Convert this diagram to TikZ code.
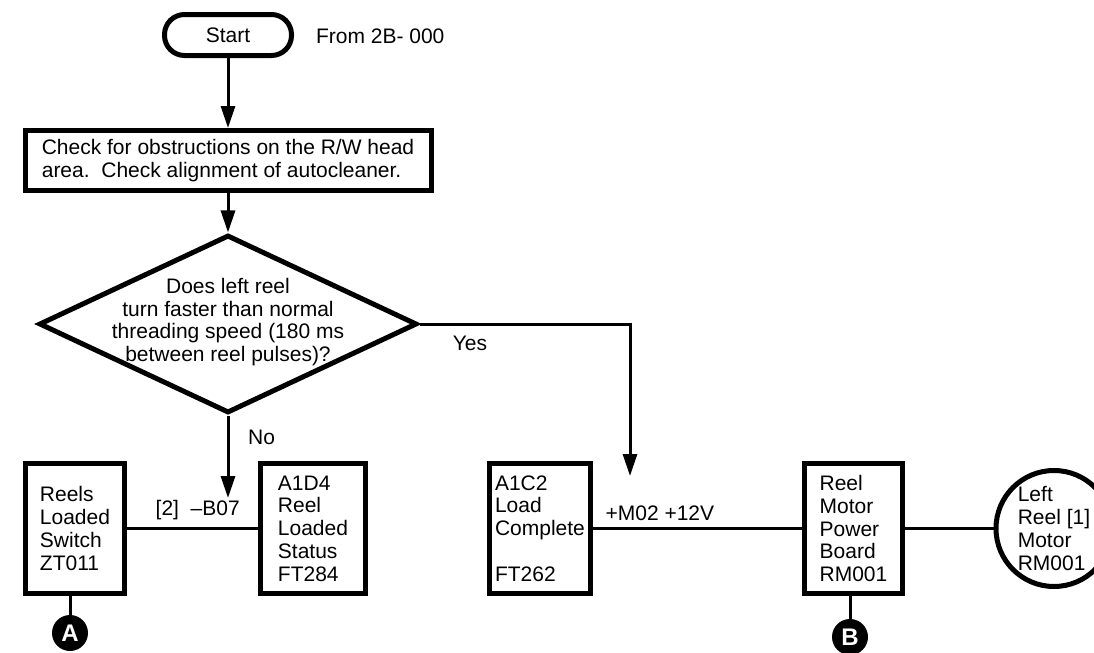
\documentclass[tikz,border=0pt]{standalone}
\usepackage{fontspec}
\setmainfont{Liberation Sans}
\usetikzlibrary{positioning, arrows.meta, shapes.geometric}

\begin{document}
\begin{tikzpicture}[
  x=0.5pt, y=-0.5pt,
  every node/.style={font=\fontsize{10.5}{11.4}\selectfont},
  term/.style={draw, line width=2.5pt, rounded corners=10pt, minimum width=63.5pt,
              minimum height=20.5pt},
  procbox/.style={draw, line width=2.5pt, minimum width=203pt, minimum height=30pt,
              align=left},
  decision/.style={diamond, draw, line width=2.5pt, minimum width=189pt,
              minimum height=89pt, inner sep=0pt},
  unit/.style={draw, line width=2.5pt, minimum width=#1, minimum height=65pt,
              inner xsep=2pt, align=left},
  motor/.style={circle, draw, line width=2.5pt, minimum size=58pt, inner sep=0pt, align=left},
  conn/.style={circle, fill=black, text=white, minimum size=18pt, inner sep=0pt,
              font=\fontsize{12}{12}\selectfont\bfseries},
  wire/.style={line width=1.5pt},
  arr/.style={-{Triangle[length=11pt, width=7pt]}, line width=1.5pt}
 ]
\useasboundingbox (0,0) rectangle (1094,653);
\node[term] (start) at (228,35) {Start};
\node[anchor=west] (from) at (309,36) {From 2B- 000};
\node[procbox] (check) at (228,160.5) {Check for obstructions on the R/W head\\area.\ \ Check alignment of autocleaner.};
\node[decision] (dec) at (228,324) {};
\node[align=center] (dectext) at ([yshift=1pt]dec.center) {Does left reel\\turn faster than normal\\threading speed (180 ms\\between reel pulses)?};
\node[unit=49.5pt] (reels)  at (75,528.5)    {Reels\\Loaded\\Switch\\ZT011};
\node[unit=52.5pt] (status) at (313,528.5)   {A1D4\\Reel\\Loaded\\Status\\FT284};
\node[unit=50.5pt] (load)   at (540,528.5)   {A1C2\\Load\\Complete\\[11.4pt]FT262};
\node[unit=49pt]   (power)  at (853.5,528.5) {Reel\\Motor\\Power\\Board\\RM001};
\node[motor] (motor) at (1054,528.5) {Left\\Reel [1]\\Motor\\RM001};
\node[conn] (cona) at (70,633) {A};
\node[conn] (conb) at (850,637) {B};
\coordinate (noend) at (228,498);
\coordinate (yesend) at (630,476);
\draw[arr] (start) -- (check);
\draw[arr] (check) -- (dec);
\draw[arr] (dec.south) -- (noend) node[pos=0.26, right=6pt] {No};
\draw[arr] (dec.east) -| (yesend) node[pos=0.12, below, yshift=-2pt] {Yes};
\draw[wire] (reels) -- (status) node[pos=0.54, above] {[2]\ \ --B07};
\draw[wire] (load) -- (power) node[pos=0.32, above] {+M02 +12V};
\draw[wire] (power) -- (motor);
\draw[wire] (cona) -- (cona |- reels.south);
\draw[wire] (conb) -- (conb |- power.south);
\end{tikzpicture}
\end{document}
